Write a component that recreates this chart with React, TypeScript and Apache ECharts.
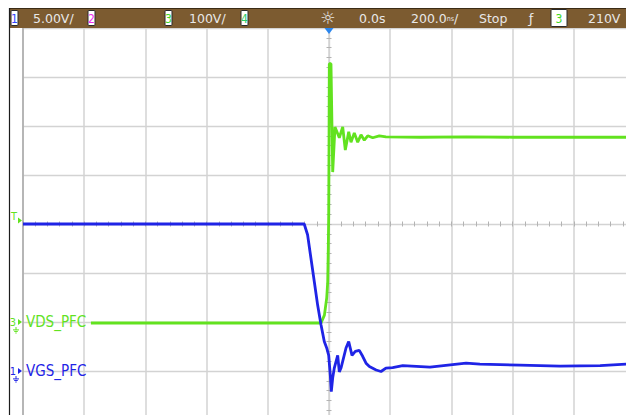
import React, { useEffect, useRef } from "react";
import * as echarts from "echarts";

// Horizontal: time in ns, 200 ns/div, 10 divisions
const TIME_MIN_NS = -1000;
const TIME_MAX_NS = 1000;
const TIME_PER_DIV_NS = 200;
// Vertical: screen divisions
const DIV_MIN = -4;
const DIV_MAX = 4;

// Channel settings
const CH1_VOLTS_PER_DIV = 5;
const CH1_GROUND_DIV = -3;
const CH3_VOLTS_PER_DIV = 100;
const CH3_GROUND_DIV = -2;
const TRIGGER_LEVEL_V = 210;

// CH3 : VDS_PFC (V)
const vdsTimeNs = [
  -778, -600, -422, -250, -95, -26, -15, -7.5, -4.2, -2.3, -1, 0, 1, 6.5, 12.1,
  19.6, 33.7, 44.8, 53.3, 64.4, 71.9, 82.7, 93.8, 104.6, 115.4, 126.5, 142.8,
  164.4, 186, 300, 450, 600, 800, 1000,
];
const vdsVolts = [
  -2, -2, -2, -2, -2, -2, 14, 49, 82, 151, 218, 351, 527, 527, 306, 398, 376,
  398, 351, 388, 367, 386, 367, 382, 371, 380, 376, 380, 378, 377, 378, 377,
  377, 377,
];

// CH1 : VGS_PFC (V)
const vgsTimeNs = [
  -1000, -800, -600, -400, -200, -81, -70, -59, -48, -37, -26, -15.4, -7.5, -1,
  4.2, 7.5, 12.1, 17.3, 28.4, 33.7, 39.2, 55.6, 64.4, 75.2, 86, 99, 110, 121,
  132, 154, 170, 186, 208, 241, 330, 448, 493, 559, 624, 755, 886, 971, 1000,
];
const vgsVolts = [
  15, 15, 15, 15, 15, 15, 13.9, 11.5, 9.1, 6.7, 4.7, 3.0, 2.35, 1.6, -0.4,
  -2.1, -0.7, 0.3, 1.6, -0.1, 0.3, 2.35, 3.0, 1.6, 2.0, 2.1, 1.5, 0.8, 0.45,
  0.1, -0.05, 0.3, 0.35, 0.55, 0.4, 0.8, 0.7, 0.65, 0.6, 0.5, 0.55, 0.7, 0.7,
];

const CH1_NAME = "VGS_PFC";
const CH3_NAME = "VDS_PFC";

const GREEN = "#62e21f";
const BLUE = "#1f24e6";
const BAR = "#7c5b30";
const BAR_TEXT = "#e8e8e8";
const GRID = "#d3d3d3";
const TICK = "#b3b3b3";

const FONT = "DejaVu Sans";
const FONT_C = "'DejaVu Sans Condensed', 'DejaVu Sans', sans-serif";

const toDiv = (v: number, perDiv: number, ground: number) => v / perDiv + ground;

const arrowRight = "path://M0 0L5 3.5L0 7Z";
const groundSym = "path://M3 0V3M0 3H6M1.2 4.6H4.8M2.3 6.2H3.7";

function chanBox(x: number, y: number, w: number, h: number, digit: string, color: string) {
  return [
    {
      type: "rect",
      z: 101,
      shape: { x, y, width: w, height: h, r: 1 },
      style: { fill: "#ffffff", stroke: "#2a2a2a", lineWidth: 1 },
    },
    {
      type: "text",
      z: 102,
      x: x + w / 2,
      y: y + h / 2 + 0.5,
      style: {
        text: digit,
        fill: color,
        fontSize: 12,
        fontFamily: FONT_C,
        align: "center",
        verticalAlign: "middle",
      },
    },
  ];
}

function barText(x: number, text: string) {
  return {
    type: "text",
    z: 102,
    x,
    y: 18.5,
    style: {
      text,
      fill: BAR_TEXT,
      fontSize: 12.5,
      fontFamily: FONT,
      align: "left",
      verticalAlign: "middle",
    },
  };
}

export default function App() {
  const ref = useRef<HTMLDivElement>(null);

  useEffect(() => {
    document.body.style.margin = "0";
    const chart = echarts.init(ref.current!, null, { renderer: "svg" });

    const vds = vdsTimeNs.map((t, i) => [t, toDiv(vdsVolts[i], CH3_VOLTS_PER_DIV, CH3_GROUND_DIV)]);
    const vgs = vgsTimeNs.map((t, i) => [t, toDiv(vgsVolts[i], CH1_VOLTS_PER_DIV, CH1_GROUND_DIV)]);
    const trigDiv = toDiv(TRIGGER_LEVEL_V, CH3_VOLTS_PER_DIV, CH3_GROUND_DIV);

    const tickCommon = {
      axisTick: { show: true, inside: false, length: 2.5, lineStyle: { color: TICK, width: 1 } },
      minorTick: { show: true, splitNumber: 5, length: 2.5, lineStyle: { color: TICK, width: 1 } },
      axisLabel: { show: false },
    };
    const baseX = {
      type: "value",
      min: TIME_MIN_NS,
      max: TIME_MAX_NS,
      interval: TIME_PER_DIV_NS,
      ...tickCommon,
    };
    const baseY = {
      type: "value",
      min: DIV_MIN,
      max: DIV_MAX,
      interval: 1,
      ...tickCommon,
    };
    const axisLine = { show: true, onZero: true, onZeroAxisIndex: 0, lineStyle: { color: GRID, width: 1.2 } };

    const markerLabel = (text: string, color: string, extra: any = {}) => ({
      show: true,
      formatter: text,
      position: "left",
      distance: 2,
      color,
      fontSize: 11,
      fontFamily: FONT_C,
      ...extra,
    });

    const option: any = {
      animation: false,
      backgroundColor: "#ffffff",
      grid: { left: 23, top: 28, width: 612, height: 392, outerBoundsMode: "none", containLabel: false },
      xAxis: [
        {
          ...baseX,
          position: "bottom",
          axisLine,
          splitLine: { show: true, lineStyle: { color: GRID, width: 1.5 } },
        },
        {
          ...baseX,
          position: "top",
          axisLine,
          splitLine: { show: false },
        },
      ],
      yAxis: [
        {
          ...baseY,
          position: "left",
          axisLine,
          splitLine: { show: true, lineStyle: { color: GRID, width: 1.3 } },
        },
        {
          ...baseY,
          position: "right",
          axisLine,
          splitLine: { show: false },
        },
      ],
      series: [
        {
          name: CH3_NAME,
          type: "line",
          xAxisIndex: 0,
          yAxisIndex: 0,
          data: vds,
          symbol: "none",
          z: 3,
          lineStyle: { color: GREEN, width: 2.8 },
          markPoint: {
            silent: true,
            animation: false,
            data: [
              {
                coord: [TIME_MIN_NS, trigDiv],
                symbol: arrowRight,
                symbolSize: [4, 6],
                symbolOffset: [-3, 1.5],
                itemStyle: { color: GREEN },
                label: markerLabel("T", GREEN, { offset: [1, -4] }),
              },
              {
                coord: [TIME_MIN_NS, CH3_GROUND_DIV],
                symbol: arrowRight,
                symbolSize: [4, 6],
                symbolOffset: [-3, 0],
                itemStyle: { color: GREEN },
                label: markerLabel("3", GREEN),
              },
              {
                coord: [TIME_MIN_NS, CH3_GROUND_DIV],
                symbol: groundSym,
                symbolSize: [6, 6],
                symbolOffset: [-7, 8],
                itemStyle: { color: "none", borderColor: GREEN, borderWidth: 1 },
              },
              {
                coord: [TIME_MIN_NS, CH3_GROUND_DIV],
                symbol: "rect",
                symbolSize: 1,
                itemStyle: { color: "rgba(0,0,0,0)" },
                label: {
                  show: true,
                  formatter: CH3_NAME,
                  position: "right",
                  distance: 2.5,
                  color: GREEN,
                  fontSize: 15,
                  fontFamily: FONT_C,
                },
              },
            ],
          },
        },
        {
          name: CH1_NAME,
          type: "line",
          xAxisIndex: 0,
          yAxisIndex: 0,
          data: vgs,
          symbol: "none",
          z: 4,
          lineStyle: { color: BLUE, width: 2.8 },
          markPoint: {
            silent: true,
            animation: false,
            data: [
              {
                coord: [0, DIV_MAX],
                symbol: "path://M0 0H10L5 6Z",
                symbolSize: [9, 6],
                symbolOffset: [0, 3],
                itemStyle: { color: "#2a86ee" },
              },
              {
                coord: [TIME_MIN_NS, CH1_GROUND_DIV],
                symbol: arrowRight,
                symbolSize: [4, 6],
                symbolOffset: [-3, 0],
                itemStyle: { color: BLUE },
                label: markerLabel("1", BLUE),
              },
              {
                coord: [TIME_MIN_NS, CH1_GROUND_DIV],
                symbol: groundSym,
                symbolSize: [6, 6],
                symbolOffset: [-7, 8],
                itemStyle: { color: "none", borderColor: BLUE, borderWidth: 1 },
              },
              {
                coord: [TIME_MIN_NS, CH1_GROUND_DIV],
                symbol: "rect",
                symbolSize: 1,
                itemStyle: { color: "rgba(0,0,0,0)" },
                label: {
                  show: true,
                  formatter: CH1_NAME,
                  position: "right",
                  distance: 2.5,
                  color: BLUE,
                  fontSize: 15,
                  fontFamily: FONT_C,
                },
              },
            ],
          },
        },
      ],
      graphic: [
        {
          type: "rect",
          z: 100,
          shape: { x: 9, y: 8, width: 617, height: 20 },
          style: { fill: BAR },
        },
        {
          type: "line",
          z: 100,
          shape: { x1: 9, y1: 8.5, x2: 626, y2: 8.5 },
          style: { stroke: "#3b2c16", lineWidth: 1 },
        },
        {
          type: "line",
          z: 100,
          shape: { x1: 9.5, y1: 8, x2: 9.5, y2: 415 },
          style: { stroke: "#1c1c1c", lineWidth: 1.2 },
        },
        {
          type: "line",
          z: 1,
          shape: { x1: 23, y1: 28, x2: 23, y2: 415 },
          style: { stroke: "#a9a9a9", lineWidth: 1.5 },
        },
        ...chanBox(11, 10.5, 7, 15, "1", "#3047ff"),
        barText(33, "5.00V/"),
        ...chanBox(88, 10.5, 7, 15, "2", "#f02cf0"),
        ...chanBox(165, 10.5, 7, 15, "3", "#3fd826"),
        barText(189, "100V/"),
        ...chanBox(241, 10.5, 7, 15, "4", "#2ccc66"),
        {
          type: "text",
          z: 102,
          x: 328,
          y: 18,
          style: {
            text: "☼",
            fill: BAR_TEXT,
            fontSize: 17,
            fontFamily: FONT,
            align: "center",
            verticalAlign: "middle",
          },
        },
        barText(359, "0.0s"),
        {
          type: "text",
          z: 102,
          x: 411,
          y: 18.5,
          style: {
            text: "{a|200.0}{b|ns}{a|/}",
            align: "left",
            verticalAlign: "middle",
            rich: {
              a: { fill: BAR_TEXT, color: BAR_TEXT, fontSize: 12.5, fontFamily: FONT },
              b: { fill: BAR_TEXT, color: BAR_TEXT, fontSize: 7, fontFamily: FONT_C },
            },
          },
        },
        barText(479, "Stop"),
        {
          type: "text",
          z: 102,
          x: 531,
          y: 18.5,
          style: {
            text: "ƒ",
            fill: BAR_TEXT,
            fontSize: 13,
            fontFamily: FONT,
            align: "center",
            verticalAlign: "middle",
          },
        },
        ...chanBox(551, 9.5, 16, 17, "3", "#3fd826"),
        barText(588, "210V"),
      ],
    };

    chart.setOption(option);
    return () => chart.dispose();
  }, []);

  return <div ref={ref} style={{ width: 626, height: 415 }} />;
}
